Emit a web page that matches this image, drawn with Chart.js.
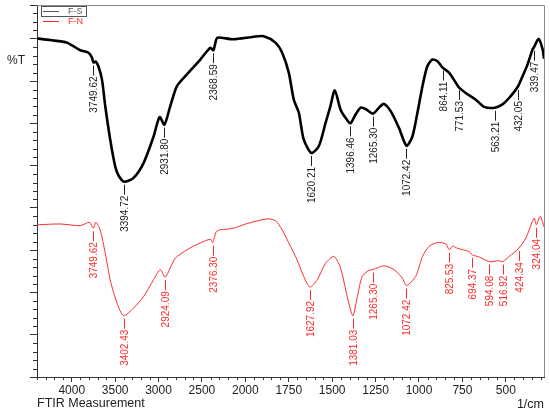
<!DOCTYPE html>
<html>
<head>
<meta charset="utf-8">
<script src="https://cdn.jsdelivr.net/npm/chart.js@4.4.1/dist/chart.umd.min.js"></script>
<style>
  html, body { margin: 0; padding: 0; background: #fff; }
  canvas { display: block; }
</style>
</head>
<body>
<canvas id="ftirChart" width="550" height="416"></canvas>
<script>
// F-S spectrum (black), wavenumber in 1/cm and %T (arbitrary units)
var fsWave = [4400,4248,4056,3902,3807,3768,3750,3723,3693,3652,3614,3557,3499,3459,3395,3288,3173,3057,2988,2932,
  2865,2788,2672,2519,2404,2369,2334,2308,2135,1952,1894,1827,1788,1750,1721,1692,1664,1620,1577,1538,
  1510,1485,1452,1423,1396,1365,1336,1308,1265,1231,1202,1163,1115,1072,1038,1009,980,952,923,894,
  864,827,800,772,731,673,625,563,519,481,432,403,375,346,339,311,288,280];
var fsT = [80.1,79.7,79.1,77.3,76.7,75.6,74.4,74.6,73.5,70.4,64.1,56.2,49.8,47.6,46.2,47.1,50.6,56.9,61.5,59.7,
  64.1,68.8,71.6,75.1,77.9,77.3,79.9,80.3,79.9,80.5,80.6,79.1,76.7,72.0,65.6,62.5,56.2,53.0,54.6,60.1,
  64.1,67.8,63.3,61.3,60.0,62.1,63.7,63.4,62.3,63.7,64.6,62.9,58.9,54.7,56.9,62.5,68.8,73.5,75.1,74.7,
  73.2,72.0,70.4,68.6,67.2,65.6,63.9,63.7,64.5,66.0,68.6,71.2,73.9,77.5,77.9,80.0,77.5,75.3];

// F-N spectrum (red)
var fnWave = [4400,4133,3902,3795,3753,3721,3672,3614,3557,3479,3402,3288,3173,3057,2980,2924,2865,2807,2672,2519,
  2404,2376,2334,2288,2135,1990,1875,1827,1788,1740,1702,1664,1628,1586,1538,1490,1452,1413,1381,1355,
  1327,1289,1265,1202,1144,1096,1072,1019,980,942,894,846,826,806,788,750,712,694,654,594,
  542,517,481,424,384,337,324,302,280];
var fnT = [36.0,36.2,35.8,36.6,35.2,36.6,34.8,29.3,23.0,17.5,14.5,16.3,19.0,23.0,25.4,23.6,25.8,28.1,30.1,31.7,
  32.6,31.8,34.4,34.8,35.2,36.3,37.4,37.0,34.8,30.9,27.7,23.8,21.3,23.0,26.9,28.5,25.8,19.0,14.5,19.0,
  23.8,25.2,25.4,26.3,25.4,23.4,21.6,23.8,28.5,30.9,31.8,31.5,30.1,31.0,30.6,30.1,29.7,28.9,28.4,27.3,
  27.5,27.3,28.5,30.5,32.9,37.6,36.0,38.0,35.5];

// picked peaks
var fsPeakWave = [3749.62,3394.72,2931.80,2368.59,1620.21,1396.46,1265.30,1072.42,864.11,771.53,563.21,432.05,339.47];
var fsPeakT = [74.4,46.2,59.7,77.3,53.0,60.0,62.3,54.7,73.2,68.6,63.7,68.6,77.9];
var fnPeakWave = [3749.62,3402.43,2924.09,2376.30,1627.92,1381.03,1265.30,1072.42,825.53,694.37,594.08,516.92,424.34,324.04];
var fnPeakT = [35.2,14.5,23.6,31.8,21.3,14.5,25.4,21.6,30.1,28.9,27.3,27.3,30.5,36.0];

// axis ticks
var xTickLabels = [4000,3500,3000,2500,2000,1750,1500,1250,1000,750,500];
var seriesNames = ['F-S', 'F-N'];

var FOLD = 2000; // above this the axis is drawn at half scale
function squeeze(w) { return w > FOLD ? FOLD + (w - FOLD) / 2 : w; }
function unsqueeze(s) { return s > FOLD ? FOLD + (s - FOLD) * 2 : s; }

class FtirScale extends Chart.LinearScale {
  buildTicks() {
    var lo = this.min, hi = this.max;
    return xTickLabels.filter(function (v) { return v >= lo && v <= hi; }).map(function (v) { return { value: v }; });
  }
  getPixelForValue(v) {
    if (v === null || v === undefined) return NaN;
    var s0 = squeeze(this.min), s1 = squeeze(this.max);
    return this.getPixelForDecimal((squeeze(v) - s0) / (s1 - s0));
  }
  getValueForPixel(p) {
    var s0 = squeeze(this.min), s1 = squeeze(this.max);
    return unsqueeze(s0 + this.getDecimalForPixel(p) * (s1 - s0));
  }
}
FtirScale.id = 'ftir';
FtirScale.defaults = {};
Chart.register(FtirScale);

function points(wave, vals) {
  return wave.map(function (w, i) { return { x: w, y: vals[i] }; });
}

var FONT = '"Liberation Sans", Arial, sans-serif';

// minor ticks, peak labels, frame, legend and axis texts
var ftirDeco = {
  id: 'ftirDeco',
  afterDraw: function (chart) {
    var ctx = chart.ctx, a = chart.chartArea;
    var xs = chart.scales.x, ys = chart.scales.y;
    ctx.save();

    // top/right frame
    ctx.strokeStyle = '#8a8a8a';
    ctx.lineWidth = 1;
    ctx.beginPath();
    ctx.moveTo(a.left, a.top + 0.5);
    ctx.lineTo(a.right + 0.5, a.top + 0.5);
    ctx.lineTo(a.right + 0.5, a.bottom);
    ctx.stroke();

    // minor ticks
    ctx.strokeStyle = '#333';
    ctx.beginPath();
    var w;
    for (w = 4400; w > FOLD; w -= 100) {
      if (w % 500 === 0) continue;
      var px = Math.round(xs.getPixelForValue(w)) + 0.5;
      ctx.moveTo(px, a.bottom); ctx.lineTo(px, a.bottom + 3);
    }
    for (w = 1950; w >= xs.min; w -= 50) {
      if (w % 250 === 0) continue;
      var qx = Math.round(xs.getPixelForValue(w)) + 0.5;
      ctx.moveTo(qx, a.bottom); ctx.lineTo(qx, a.bottom + 3);
    }
    for (var t = 2; t <= ys.max; t += 2) {
      if (t % 10 === 0) continue;
      var py = Math.round(ys.getPixelForValue(t)) + 0.5;
      ctx.moveTo(a.left - 4, py); ctx.lineTo(a.left, py);
    }
    ctx.stroke();

    // peak labels
    function peaks(wave, vals, color) {
      ctx.strokeStyle = color;
      ctx.fillStyle = color;
      ctx.lineWidth = 1;
      ctx.font = '10px ' + FONT;
      wave.forEach(function (pw, i) {
        var x = Math.round(xs.getPixelForValue(pw)) + 0.5;
        var y = ys.getPixelForValue(vals[i]) + 3;
        ctx.beginPath();
        ctx.moveTo(x, y); ctx.lineTo(x, y + 10);
        ctx.stroke();
        ctx.save();
        ctx.translate(x, y + 11);
        ctx.rotate(-Math.PI / 2);
        ctx.textAlign = 'right';
        ctx.textBaseline = 'middle';
        ctx.fillText(pw.toFixed(2), 0, 0.5);
        ctx.restore();
      });
    }
    peaks(fsPeakWave, fsPeakT, '#222');
    peaks(fnPeakWave, fnPeakT, '#ff2a2a');

    // legend
    ctx.strokeStyle = '#555';
    ctx.strokeRect(a.left + 4.5, 6.5, 45, 10);
    ctx.font = '9px ' + FONT;
    ctx.textBaseline = 'middle';
    ctx.textAlign = 'left';
    ctx.lineWidth = 1;
    ctx.strokeStyle = '#555';
    ctx.beginPath(); ctx.moveTo(a.left + 6, 11.5); ctx.lineTo(a.left + 22, 11.5); ctx.stroke();
    ctx.fillStyle = '#555';
    ctx.fillText(seriesNames[0], a.left + 31, 11.5);
    ctx.strokeStyle = '#ff2a2a';
    ctx.beginPath(); ctx.moveTo(a.left + 6, 21.5); ctx.lineTo(a.left + 22, 21.5); ctx.stroke();
    ctx.fillStyle = '#ff2a2a';
    ctx.fillText(seriesNames[1], a.left + 31, 21.5);

    // axis texts
    ctx.fillStyle = '#222';
    ctx.font = '12px ' + FONT;
    ctx.textAlign = 'left';
    ctx.fillText('%T', 7, 61);
    ctx.font = '12.5px ' + FONT;
    ctx.fillText('FTIR Measurement', a.left, 404);
    ctx.textAlign = 'right';
    ctx.fillText('1/cm', a.right, 405);
    ctx.restore();
  }
};

var ctx = document.getElementById('ftirChart').getContext('2d');
var ftirChart = new Chart(ctx, {
  type: 'line',
  data: {
    datasets: [{
      label: seriesNames[0],
      data: points(fsWave, fsT),
      borderColor: '#000',
      borderWidth: 2.6,
      pointRadius: 0,
      tension: 0.25,
      fill: false
    }, {
      label: seriesNames[1],
      data: points(fnWave, fnT),
      borderColor: '#ff2a2a',
      borderWidth: 1,
      pointRadius: 0,
      tension: 0.25,
      fill: false
    }]
  },
  options: {
    responsive: false,
    animation: false,
    layout: { padding: { top: 5, right: 6, left: 0, bottom: 0 } },
    plugins: { legend: { display: false }, tooltip: { enabled: false } },
    scales: {
      x: {
        type: 'ftir',
        reverse: true,
        min: 280,
        max: 4400,
        afterFit: function (scale) { scale.height = 39; },
        grid: { drawOnChartArea: false, tickLength: 5, color: '#333' },
        border: { color: '#333', width: 1 },
        ticks: {
          autoSkip: false,
          maxRotation: 0,
          padding: 1,
          color: '#222',
          font: { family: FONT, size: 12 },
          callback: function (v) { return String(v); }
        }
      },
      y: {
        min: 0,
        max: 88,
        afterFit: function (scale) { scale.width = 37; },
        grid: { drawOnChartArea: false, tickLength: 7, color: '#333' },
        border: { color: '#333', width: 1 },
        ticks: { stepSize: 10, display: false }
      }
    }
  },
  plugins: [ftirDeco]
});
</script>
</body>
</html>
